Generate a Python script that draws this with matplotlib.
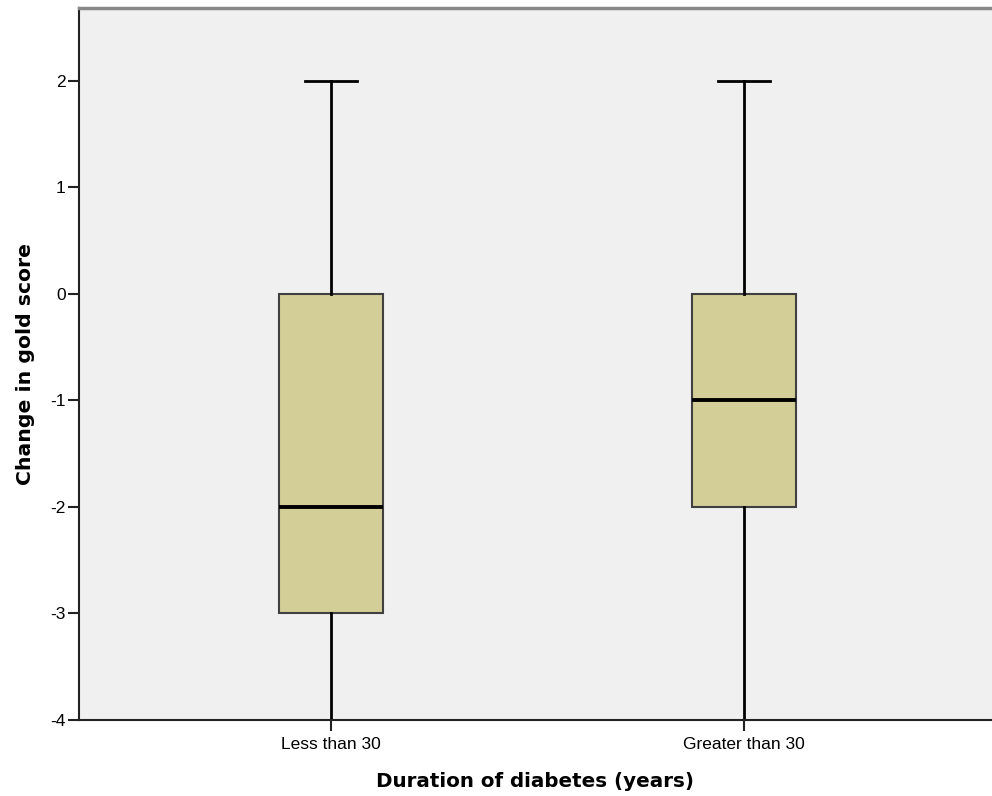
import matplotlib
matplotlib.use("Agg")
import matplotlib.pyplot as plt

plt.rcParams['font.family'] = ['Liberation Sans', 'DejaVu Sans']
plt.rcParams['axes.unicode_minus'] = False

groups = ["Less than 30", "Greater than 30"]
whisker_low = [-4, -4]
q1 = [-3, -2]
median = [-2, -1]
q3 = [0, 0]
whisker_high = [2, 2]

stats = []
for i, name in enumerate(groups):
    stats.append(dict(label=name, whislo=whisker_low[i], q1=q1[i], med=median[i],
                      q3=q3[i], whishi=whisker_high[i], fliers=[]))

fig = plt.figure(figsize=(9.92, 7.96), dpi=100)
ax = fig.add_axes([0.0796, 0.0955, 0.9204, 0.8945])
ax.set_facecolor("#f0f0f0")

ax.bxp(stats, positions=[0, 1], widths=0.25, patch_artist=True, showfliers=False,
       boxprops=dict(facecolor="#d3ce97", edgecolor="#404040", linewidth=1.5),
       medianprops=dict(color="black", linewidth=2.8),
       whiskerprops=dict(color="black", linewidth=2.0),
       capprops=dict(color="black", linewidth=2.0), capwidths=0.125)

ax.set_xlim(-0.61, 0.60 + 1)
ax.set_ylim(-4, 2.685)
ax.set_yticks(range(-4, 3))
ax.set_xticks([0, 1])
ax.set_xticklabels(groups)
ax.tick_params(axis="both", labelsize=12.5, length=8, width=1.5, color="#222222", pad=1.5)
ax.tick_params(axis="x", pad=4.5)

ax.spines["right"].set_visible(False)
ax.spines["top"].set_color("#888888")
ax.spines["top"].set_linewidth(2.5)
for s in ["left", "bottom"]:
    ax.spines[s].set_color("#222222")
    ax.spines[s].set_linewidth(1.5)

ax.set_xlabel("Duration of diabetes (years)", fontsize=14.3, fontweight="bold",
              family="DejaVu Sans", labelpad=14)
ax.set_ylabel("Change in gold score", fontsize=14.7, fontweight="bold",
              family="DejaVu Sans", labelpad=11)

fig.savefig("out.png", dpi=100)
